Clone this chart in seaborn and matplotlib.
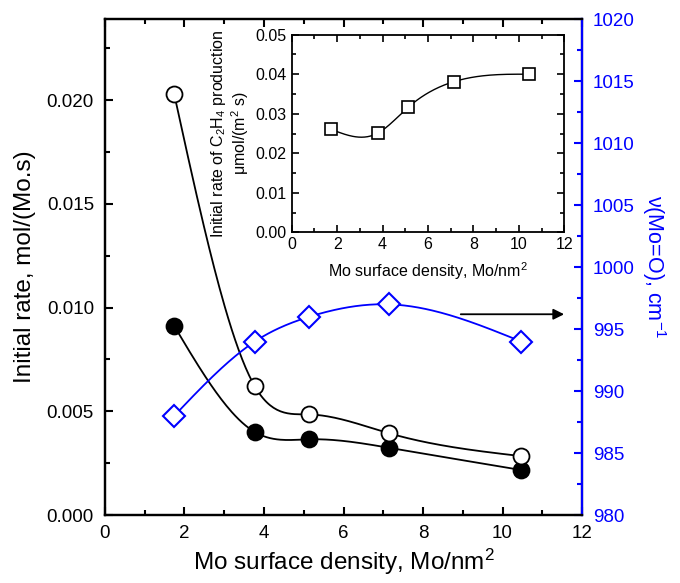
import numpy as np
import pandas as pd
import matplotlib
matplotlib.use("Agg")
import matplotlib.pyplot as plt
from matplotlib.ticker import MultipleLocator
import seaborn as sns

# Mo surface density (Mo/nm^2) of the catalyst series
density = [1.74, 3.77, 5.14, 7.15, 10.47]
# initial rates, mol/(Mo.s)
rate_open = [0.0203, 0.0062, 0.00485, 0.00394, 0.00284]
rate_filled = [0.00912, 0.0040, 0.00365, 0.00324, 0.00217]
# Mo=O stretching frequency, cm^-1
nu_mo_o = [988, 994, 996, 997, 994]
# inset: initial rate of C2H4 production, umol/(m^2 s)
inset_density = [1.72, 3.79, 5.12, 7.13, 10.43]
c2h4_rate = [0.0261, 0.0251, 0.0316, 0.0381, 0.0400]

x_ticks = [0, 2, 4, 6, 8, 10, 12]


def natural_spline(x, y, n=200):
    """Natural cubic spline through (x, y), sampled on n points."""
    x = np.asarray(x, float)
    y = np.asarray(y, float)
    k = len(x)
    h = np.diff(x)
    A = np.zeros((k, k))
    b = np.zeros(k)
    A[0, 0] = A[-1, -1] = 1.0
    for i in range(1, k - 1):
        A[i, i - 1] = h[i - 1]
        A[i, i] = 2 * (h[i - 1] + h[i])
        A[i, i + 1] = h[i]
        b[i] = 6 * ((y[i + 1] - y[i]) / h[i] - (y[i] - y[i - 1]) / h[i - 1])
    M = np.linalg.solve(A, b)
    xs = np.linspace(x[0], x[-1], n)
    idx = np.clip(np.searchsorted(x, xs) - 1, 0, k - 2)
    x0, x1 = x[idx], x[idx + 1]
    hh = x1 - x0
    ys = (M[idx] * (x1 - xs) ** 3 / (6 * hh) + M[idx + 1] * (xs - x0) ** 3 / (6 * hh)
          + (y[idx] / hh - M[idx] * hh / 6) * (x1 - xs)
          + (y[idx + 1] / hh - M[idx + 1] * hh / 6) * (xs - x0))
    return pd.DataFrame({"x": xs, "y": ys})


sns.set_theme(style="ticks", rc={"axes.edgecolor": "black",
                                 "text.color": "black",
                                 "axes.labelcolor": "black",
                                 "xtick.color": "black",
                                 "ytick.color": "black"})
plt.rcParams["font.family"] = ["Liberation Sans", "DejaVu Sans"]
plt.rcParams["mathtext.fontset"] = "custom"
plt.rcParams["mathtext.rm"] = "Liberation Sans"
plt.rcParams["mathtext.default"] = "regular"

BLUE = "#0000ff"

fig = plt.figure(figsize=(6.8, 5.83), dpi=100)
ax = fig.add_axes([0.1544, 0.1166, 0.8559 - 0.1544, 0.9669 - 0.1166])
ax2 = ax.twinx()

main = pd.DataFrame({"density": density, "open": rate_open,
                     "filled": rate_filled, "nu": nu_mo_o})

# smooth connecting curves
for col in ["open", "filled"]:
    sp = natural_spline(main["density"], main[col])
    sns.lineplot(data=sp, x="x", y="y", ax=ax, color="black", lw=1.3,
                 sort=False, estimator=None)
sp = natural_spline(main["density"], main["nu"])
sns.lineplot(data=sp, x="x", y="y", ax=ax2, color=BLUE, lw=1.3,
             sort=False, estimator=None)

# markers
ax.plot(main["density"], main["filled"], "o", ms=11.5, mfc="black",
        mec="black", mew=1.3, zorder=5)
ax.plot(main["density"], main["open"], "o", ms=11.5, mfc="white",
        mec="black", mew=1.3, zorder=5)
ax2.plot(main["density"], main["nu"], "D", ms=11, mfc="white",
         mec=BLUE, mew=1.5, zorder=5)

ax.set_xlim(0, 12)
ax.set_ylim(0, 0.0239)
ax2.set_ylim(980, 1020)
ax.set_xticks(x_ticks)
ax.xaxis.set_minor_locator(MultipleLocator(1))
ax.yaxis.set_major_locator(MultipleLocator(0.005))
ax.yaxis.set_minor_locator(MultipleLocator(0.0025))
ax.yaxis.set_major_formatter(matplotlib.ticker.FormatStrFormatter("%.3f"))
ax2.yaxis.set_major_locator(MultipleLocator(5))
ax2.yaxis.set_minor_locator(MultipleLocator(2.5))

for a in (ax, ax2):
    for s in a.spines.values():
        s.set_linewidth(1.6)
        s.set_visible(True)
        s.set_color("black")
ax2.spines["right"].set_color(BLUE)

ax.tick_params(which="both", direction="in", top=True, right=False,
               labelsize=13.5, width=1.5, colors="black")
ax.tick_params(which="major", length=6)
ax.tick_params(which="minor", length=3.5)
ax2.tick_params(which="both", direction="in", labelsize=13.5, width=1.5,
                colors=BLUE, pad=8)
ax2.tick_params(which="major", length=6)
ax2.tick_params(which="minor", length=3.5)
ax.tick_params(axis="y", pad=8)
ax.tick_params(axis="x", pad=7)

ax.set_xlabel("Mo surface density, Mo/nm$^2$", fontsize=17.5, labelpad=4)
ax.set_ylabel("Initial rate, mol/(Mo.s)", fontsize=17.5, labelpad=8)
ax2.set_ylabel("ν(Mo=O), cm$^{-1}$", fontsize=15.5, color=BLUE,
               rotation=270, labelpad=24)

# arrow pointing toward the right-hand axis
ax2.annotate("", xy=(11.55, 996.2), xytext=(8.95, 996.2),
             arrowprops=dict(arrowstyle="-|>", color="black", lw=1.3,
                             mutation_scale=16, shrinkA=0, shrinkB=0))

# inset: C2H4 production rate
axi = fig.add_axes([0.429, 0.6015, 0.8299 - 0.429, 0.9405 - 0.6015])
inset = pd.DataFrame({"density": inset_density, "rate": c2h4_rate})
sp = natural_spline(inset["density"], inset["rate"])
sns.lineplot(data=sp, x="x", y="y", ax=axi, color="black", lw=1.0,
             sort=False, estimator=None)
axi.plot(inset["density"], inset["rate"], "s", ms=9, mfc="white",
         mec="black", mew=1.2, zorder=5)
axi.set_xlim(0, 12)
axi.set_ylim(0, 0.05)
axi.set_xticks(x_ticks)
axi.xaxis.set_minor_locator(MultipleLocator(1))
axi.yaxis.set_major_locator(MultipleLocator(0.01))
axi.yaxis.set_minor_locator(MultipleLocator(0.005))
axi.yaxis.set_major_formatter(matplotlib.ticker.FormatStrFormatter("%.2f"))
for s in axi.spines.values():
    s.set_linewidth(1.3)
    s.set_color("black")
axi.tick_params(which="both", direction="in", top=True, right=True,
                labelsize=11.5, width=1.2, colors="black")
axi.tick_params(which="major", length=5)
axi.tick_params(which="minor", length=3)
axi.set_xlabel("Mo surface density, Mo/nm$^2$", fontsize=11.5, labelpad=6)
axi.set_ylabel("Initial rate of C$_2$H$_4$ production\nμmol/(m$^2$ s)",
               fontsize=11.5, labelpad=3, linespacing=1.1)

fig.savefig("out.png", dpi=100)
